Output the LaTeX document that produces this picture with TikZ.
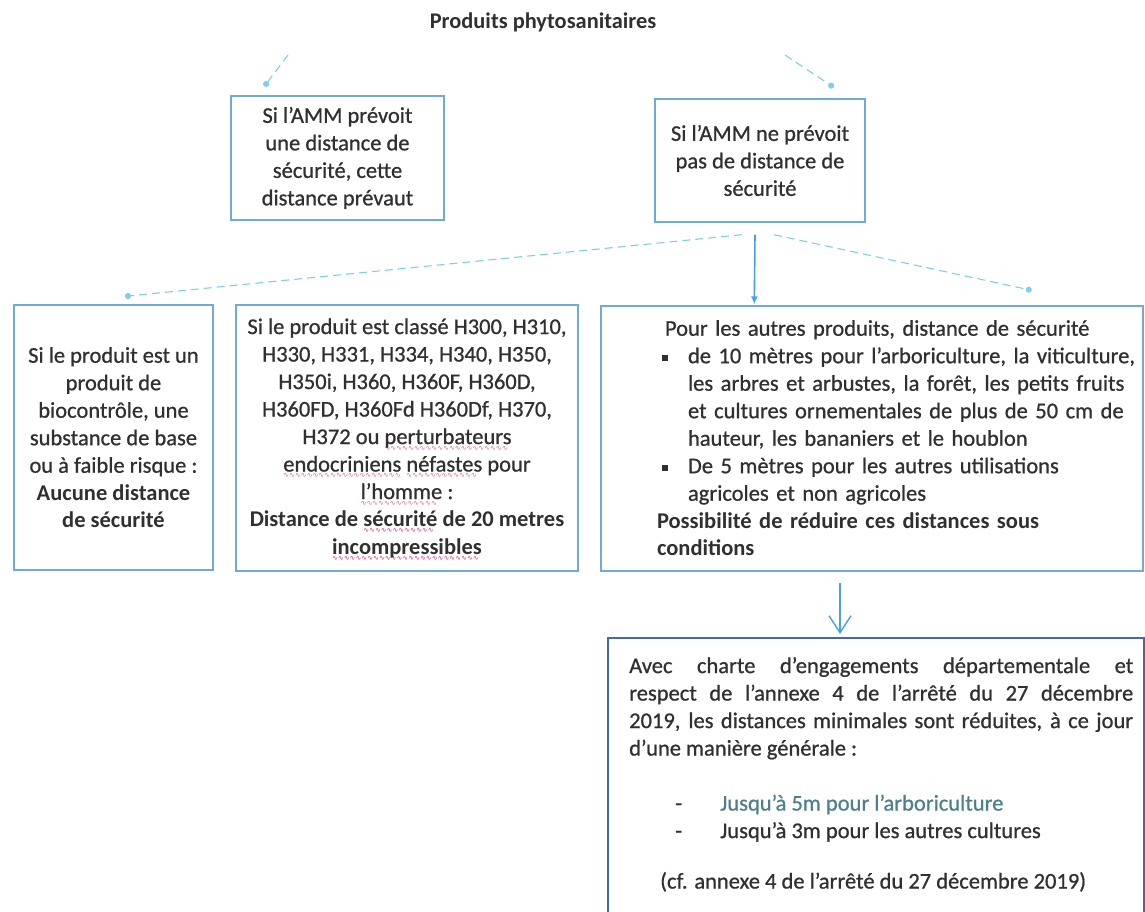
\documentclass[tikz,border=0pt]{standalone}
\usepackage{fontspec}
\setmainfont{Carlito}[UprightFeatures={FakeBold=0.8}]
\newfontfamily\wavefont{DejaVu Sans}
\usetikzlibrary{arrows.meta,calc}
\setlength{\parindent}{0pt}

\definecolor{boxblue}{RGB}{112,170,220}
\definecolor{darkblue}{RGB}{62,104,178}
\definecolor{linkblue}{RGB}{125,205,242}
\definecolor{arrowblue}{RGB}{70,160,232}
\definecolor{txtgray}{RGB}{48,48,48}
\definecolor{spellred}{RGB}{228,92,142}
\definecolor{tealgray}{RGB}{78,128,140}

\newsavebox{\spellbox}
\newcommand{\spellerr}[1]{\sbox{\spellbox}{#1}%
  \rlap{\raisebox{-6pt}[0pt][0pt]{\color{spellred}\wavefont\fontsize{7}{7}\selectfont
    \hbox to\wd\spellbox{\leaders\hbox{∿}\hfill}}}\usebox{\spellbox}}
\newcommand{\sqbullet}{\makebox[31pt][l]{\hspace{5pt}\rule[2pt]{6pt}{6pt}}}

\tikzset{
  frame/.style={draw=boxblue,line width=1.4pt},
  txt/.style={text=txtgray,font=\fontsize{22.5}{27.5}\selectfont,align=center,inner sep=0pt},
  dashlink/.style={draw=linkblue,line width=1.1pt,dash pattern=on 8pt off 5pt,-{Circle[length=6pt]}},
}

\begin{document}
\begin{tikzpicture}[x=1pt,y=-1pt]
\useasboundingbox (0,0) rectangle (1145,912);
\clip (0,0) rectangle (1145,912);

% titre
\node[txt,font=\fontsize{22.4}{26}\selectfont\bfseries] (titre) at (543,22) {Produits phytosanitaires};

% AMM
\node[frame,txt,minimum width=213pt,minimum height=124pt] (amm) at (337.5,158) {Si l’AMM prévoit\\une distance de\\sécurité, cette\\distance prévaut};
\node[frame,txt,minimum width=210pt,minimum height=123pt] (noamm) at (760,160.5) {Si l’AMM ne prévoit\\pas de distance de\\sécurité};

% cas sans distance prevue
\node[frame,txt,minimum width=199pt,minimum height=265pt] (bio) at (113.5,437.5) {Si le produit est un\\produit de\\biocontrôle, une\\substance de base\\ou à faible risque :\\\textbf{Aucune distance}\\\textbf{de sécurité}};

\node[frame,txt,minimum width=342pt,minimum height=266pt] (classe) at (407,438) {Si le produit est classé H300, H310,\\H330, H331, H334, H340, H350,\\H350i, H360, H360F, H360D,\\H360FD, H360Fd H360Df, H370,\\H372 ou \spellerr{perturbateurs}\\\spellerr{endocriniens} \spellerr{néfastes} pour\\\spellerr{l’homme} :\\\textbf{Distance de \spellerr{sécurité} de 20 metres}\\\textbf{\spellerr{incompressibles}}};

\node[frame,minimum width=542pt,minimum height=265pt] (autres) at (872,438.5) {};
\node[txt,text width=480pt,align=left] (autrestxt) at (897,438) {\hspace*{8pt}Pour les autres produits, distance de sécurité\\
\sqbullet de 10 mètres pour l’arboriculture, la viticulture,\\
\hspace*{31pt}les arbres et arbustes, la forêt, les petits fruits\\
\hspace*{31pt}et cultures ornementales de plus de 50 cm de\\
\hspace*{31pt}hauteur, les bananiers et le houblon\\
\sqbullet De 5 mètres pour les autres utilisations\\
\hspace*{31pt}agricoles et non agricoles\\
\textbf{Possibilité de réduire ces distances sous}\\
\textbf{conditions}};

% charte
\node[draw=darkblue,line width=2pt,minimum width=536pt,minimum height=302pt] (charte) at (876,789) {};
\node[txt,text width=504pt,align=justify,anchor=north west] (chartetxt) at (629,657) {Avec charte d’engagements départementale et\linebreak
respect de l’annexe 4 de l’arrêté du 27 décembre\linebreak
2019, les distances minimales sont réduites, à ce jour\linebreak
d’une manière générale :\par
\vspace{27.5pt}
\hspace*{46pt}\makebox[45pt][l]{-}\textcolor{tealgray}{Jusqu’à 5m pour l’arboriculture}\par
\hspace*{46pt}\makebox[45pt][l]{-}Jusqu’à 3m pour les autres cultures\par
\vspace{23pt}
\hspace*{31pt}(cf. annexe 4 de l’arrêté du 27 décembre 2019)};

% fleches
\begin{scope}[dashlink]
    \draw ($(titre.center)+(-255,33)$) -- ($(amm.north west)+(34,-9)$);
    \draw ($(titre.center)+(242,33)$) -- ($(noamm.north east)+(-32,-11)$);
    \draw ($(noamm.south)+(-18,12)$) -- ($(bio.north)+(11.5,-8)$);
    \draw ($(noamm.south)+(14,12)$) -- ($(autres.north east)+(-112,-15)$);
\end{scope}
\draw[arrowblue,line width=1.6pt,-{Latex[length=8pt,width=7pt]}] ($(noamm.south)+(-5,12)$) -- ($(autres.north west)+(154,-1)$);
\draw[arrowblue,line width=1.4pt,-{Straight Barb[length=17pt,width=22pt]}] ($(autres.south)+(-32,11)$) -- ($(charte.north)+(-36,-3)$);
\end{tikzpicture}
\end{document}
